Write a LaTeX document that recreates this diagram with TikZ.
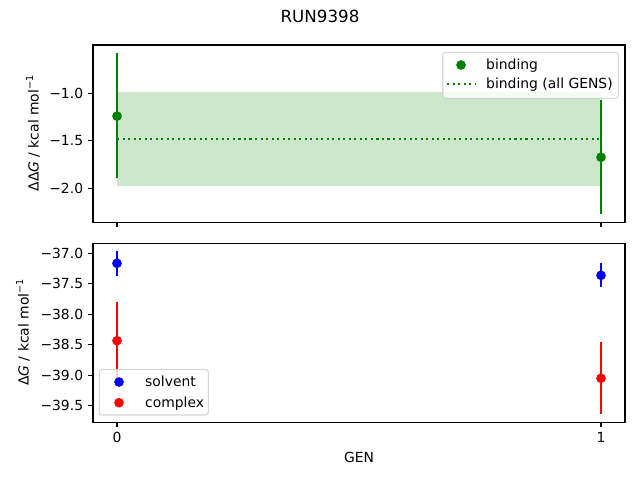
\documentclass[tikz,border=0pt]{standalone}
\usepackage{fontspec}
\setmainfont{DejaVu Sans}
\definecolor{mgreen}{RGB}{0,128,0}
\definecolor{mblue}{RGB}{0,0,255}
\definecolor{mred}{RGB}{255,0,0}
\definecolor{bandgreen}{RGB}{204,230,204}
\newcommand{\tfont}{\fontsize{13.9}{16}\selectfont}
\newcommand{\supm}{\raisebox{5.5pt}{\fontsize{9.7}{10}\selectfont −1}}
\tikzset{
  axframe/.style={line width=1.1pt, black},
  tickmark/.style={line width=1.1pt, black},
  ebar/.style={line width=2.08pt},
  ticklab/.style={font=\tfont, inner sep=0pt},
  legbox/.style={draw=black!20, fill=white, fill opacity=0.8, draw opacity=0.8, rounded corners=2.8pt, line width=1.1pt},
  mdot/.style={radius=4.85pt},
}
\begin{document}
\begin{tikzpicture}[x=1pt,y=-1pt]
\useasboundingbox (0,0) rectangle (640,480);
\fill[white] (0,0) rectangle (640,480);

% title
\node[font=\fontsize{16.7}{19}\selectfont, inner sep=0pt] (title) at (320,16) {RUN9398};

% ================= TOP AXES =================
\fill[bandgreen] (117,92.3) rectangle (601,185.7);
\draw[mgreen, line width=2.08pt, dash pattern=on 2.08pt off 3.44pt] (117,139) -- (601,139);
% error bars
\draw[mgreen, ebar] (117,53.3) -- (117,178.3);
\fill[mgreen] (117,116.1) circle[mdot];
\draw[mgreen, ebar] (601,100) -- (601,214);
\fill[mgreen] (601,157.3) circle[mdot];
% frame
\draw[axframe] (93,45) rectangle (625,222.5);
% x ticks
\foreach \xx in {117,601} \draw[tickmark] (\xx,222.5) -- ++(0,4.86);
% y ticks
\foreach \yy/\lab in {93.3/−1.0,140.8/−1.5,188.3/−2.0}{
  \draw[tickmark] (93,\yy) -- ++(-4.86,0);
  \node[ticklab, anchor=east] at (83.3,\yy) {\lab};
}
\node[font=\tfont, rotate=90, inner sep=0pt] (ylab1) at (33,133.5) {ΔΔ\textit{G} / kcal mol\supm};
% legend
\draw[legbox] (442.7,52.3) rectangle (618.3,98.3);
\fill[mgreen] (461,65) circle[mdot];
\draw[mgreen, line width=2.08pt, dash pattern=on 2.08pt off 3.44pt] (447,83.7) -- (475,83.7);
\node[ticklab, anchor=base west] (l1) at (486,69.5) {binding};
\node[ticklab, anchor=base west] (l2) at (486,88.5) {binding (all GENS)};

% ================= BOTTOM AXES =================
\draw[mblue, ebar] (117,251) -- (117,275.6);
\fill[mblue] (117,263.3) circle[mdot];
\draw[mblue, ebar] (601,263.3) -- (601,286.7);
\fill[mblue] (601,275.3) circle[mdot];
\draw[mred, ebar] (117,301.7) -- (117,379.7);
\fill[mred] (117,340.7) circle[mdot];
\draw[mred, ebar] (601,342.3) -- (601,414);
\fill[mred] (601,378.3) circle[mdot];
% frame
\draw[axframe] (93,243.3) rectangle (625,422.3);
% x ticks
\foreach \xx/\lab in {117/0,601/1}{
  \draw[tickmark] (\xx,422.3) -- ++(0,4.86);
  \node[ticklab, anchor=north] at (\xx,432) {\lab};
}
% y ticks
\foreach \yy/\lab in {253.3/−37.0,283.8/−37.5,314.3/−38.0,344.7/−38.5,375.2/−39.0,405.7/−39.5}{
  \draw[tickmark] (93,\yy) -- ++(-4.86,0);
  \node[ticklab, anchor=east] at (83.3,\yy) {\lab};
}
\node[font=\tfont, rotate=90, inner sep=0pt] (ylab2) at (23,332.5) {Δ\textit{G} / kcal mol\supm};
\node[font=\tfont, inner sep=0pt] (xlab) at (359,457) {GEN};
% legend
\draw[legbox] (99.3,369.3) rectangle (208.3,415);
\fill[mblue] (119,382) circle[mdot];
\fill[mred] (119,402.7) circle[mdot];
\node[ticklab, anchor=base west] (l3) at (145,386.5) {solvent};
\node[ticklab, anchor=base west] (l4) at (145,407) {complex};
\end{tikzpicture}
\end{document}
